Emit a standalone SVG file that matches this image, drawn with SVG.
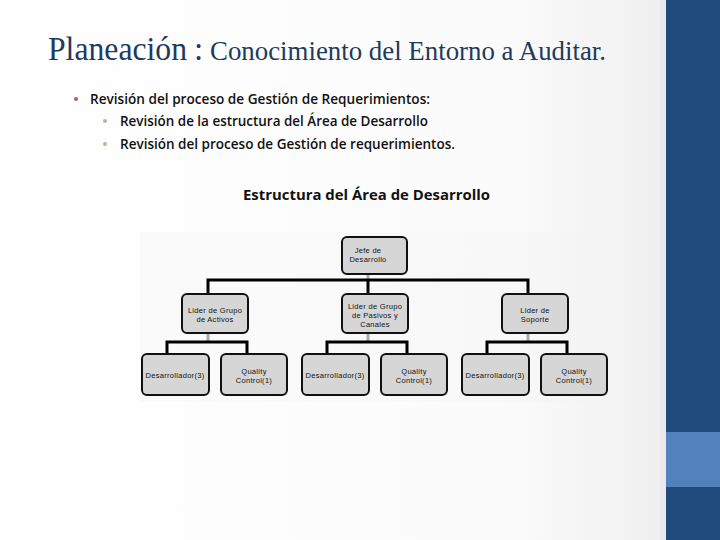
<svg xmlns="http://www.w3.org/2000/svg" width="720" height="540" viewBox="0 0 720 540">
<defs>
<linearGradient id="bg" x1="0" y1="0" x2="1" y2="0">
<stop offset="0" stop-color="#ffffff"/>
<stop offset="0.7" stop-color="#fbfbfb"/>
<stop offset="1" stop-color="#ebebeb"/>
</linearGradient>
<style>
.box{fill:#d6d6d6;stroke:#111;stroke-width:2}
.bt{font-family:"Liberation Sans",Arial,sans-serif;font-size:7.5px;fill:#111;text-anchor:middle;letter-spacing:0.3px}
.ln{stroke:#000;stroke-width:3;fill:none}
.stub{stroke:#aaa;stroke-width:3}
.bul{font-family:"Open Sans","Liberation Sans",sans-serif;font-size:14px;font-weight:600;fill:#111}
</style>
</defs>
<rect width="720" height="540" fill="url(#bg)"/>
<rect x="660" y="0" width="6" height="540" fill="#e9e8ec"/>
<rect x="666" y="0" width="54" height="540" fill="#204a7c"/>
<rect x="666" y="432" width="54" height="55" fill="#5282bc"/>
<rect x="140" y="232" width="470" height="170" fill="#f3f3f3" opacity="0.35"/>
<text x="48" y="60" font-family="'Liberation Serif',serif" font-size="33" fill="#1e3a5c" textLength="139" lengthAdjust="spacingAndGlyphs">Planeación</text>
<text x="194" y="60" font-family="'Liberation Serif',serif" font-size="33" fill="#1e3a5c">:</text>
<text x="210" y="60" font-family="'Liberation Serif',serif" font-size="28" fill="#1e3a5c" textLength="396" lengthAdjust="spacingAndGlyphs">Conocimiento del Entorno a Auditar.</text>
<circle cx="76" cy="99" r="2" fill="#a8606c"/>
<text class="bul" x="90" y="104" textLength="340" lengthAdjust="spacingAndGlyphs">Revisión del proceso de Gestión de Requerimientos:</text>
<circle cx="105" cy="121" r="2" fill="#b8b88c"/>
<text class="bul" x="120" y="126" textLength="308" lengthAdjust="spacingAndGlyphs">Revisión de la estructura del Área de Desarrollo</text>
<circle cx="105" cy="144" r="2" fill="#b8b88c"/>
<text class="bul" x="120" y="149" textLength="335" lengthAdjust="spacingAndGlyphs">Revisión del proceso de Gestión de requerimientos.</text>
<text x="243" y="200" font-family="'Open Sans','Liberation Sans',sans-serif" font-weight="bold" font-size="14" fill="#111" textLength="247" lengthAdjust="spacingAndGlyphs">Estructura del Área de Desarrollo</text>
<g id="connectors">
<line class="stub" x1="368" y1="274" x2="368" y2="280"/>
<path class="ln" d="M208 294V280H528V294M368 280V294"/>
<line class="stub" x1="208" y1="333" x2="208" y2="342"/>
<path class="ln" d="M167 355V342H247V355"/>
<line class="stub" x1="368" y1="333" x2="368" y2="342"/>
<path class="ln" d="M327 355V342H407V355"/>
<line class="stub" x1="528" y1="333" x2="528" y2="342"/>
<path class="ln" d="M487 355V342H567V355"/>
</g>
<g id="jefe"><rect class="box" x="342" y="237" width="65" height="37" rx="5"/><text class="bt" x="368" y="253">Jefe de</text><text class="bt" x="368" y="262">Desarrollo</text></g>
<g id="lider-activos"><rect class="box" x="182" y="294" width="66" height="39" rx="5"/><text class="bt" x="215" y="313">Lider de Grupo</text><text class="bt" x="215" y="322">de Activos</text></g>
<g id="lider-pasivos"><rect class="box" x="342" y="294" width="66" height="39" rx="5"/><text class="bt" x="375" y="309">Lider de Grupo</text><text class="bt" x="375" y="318">de Pasivos y</text><text class="bt" x="375" y="327">Canales</text></g>
<g id="lider-soporte"><rect class="box" x="502" y="294" width="66" height="39" rx="5"/><text class="bt" x="535" y="313">Lider de</text><text class="bt" x="535" y="322">Soporte</text></g>
<g id="dev1"><rect class="box" x="142" y="354" width="67" height="41" rx="5"/><text class="bt" x="175" y="378">Desarrollador(3)</text></g>
<g id="qc1"><rect class="box" x="221" y="354" width="66" height="41" rx="5"/><text class="bt" x="254" y="374">Quality</text><text class="bt" x="254" y="383">Control(1)</text></g>
<g id="dev2"><rect class="box" x="302" y="354" width="67" height="41" rx="5"/><text class="bt" x="335" y="378">Desarrollador(3)</text></g>
<g id="qc2"><rect class="box" x="381" y="354" width="66" height="41" rx="5"/><text class="bt" x="414" y="374">Quality</text><text class="bt" x="414" y="383">Control(1)</text></g>
<g id="dev3"><rect class="box" x="462" y="354" width="67" height="41" rx="5"/><text class="bt" x="495" y="378">Desarrollador(3)</text></g>
<g id="qc3"><rect class="box" x="541" y="354" width="66" height="41" rx="5"/><text class="bt" x="574" y="374">Quality</text><text class="bt" x="574" y="383">Control(1)</text></g>
</svg>
